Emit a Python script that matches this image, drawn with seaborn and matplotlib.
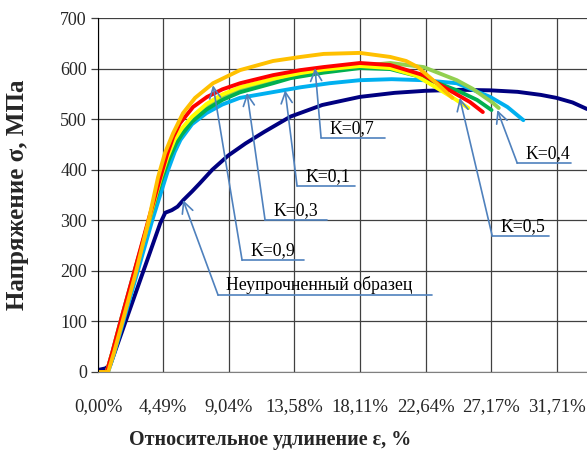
import numpy as np
import pandas as pd
import matplotlib
matplotlib.use('Agg')
import matplotlib.pyplot as plt
import seaborn as sns

sns.set_style('white')
plt.rcParams['font.family'] = ['Liberation Serif', 'DejaVu Serif']

# strain, % / stress, MPa
x_base = [0, 0.5, 0.85, 1.5, 2.5, 3.5, 4.3, 4.65, 5.1, 5.5, 5.9, 6.5, 7.0, 7.9, 9.0, 10.2,
          11.5, 13.3, 15.5, 18.1, 20.5, 22.6, 25.0, 27.1, 29.0, 30.6, 31.7, 32.8, 33.8]
y_base = [4, 7, 14, 67, 148, 229, 294, 315, 320, 327, 340, 357, 372, 400, 428, 452,
          475, 505, 528, 544, 552, 556, 558, 557, 554, 548, 542, 533, 520]

x_k01 = [0, 0.7, 1.1, 1.7, 2.75, 3.75, 4.85, 5.3, 5.7, 6.5, 7.5, 8.6, 9.8, 12.8, 14.0, 16.0,
         18.1, 20.3, 22.5, 24.8, 27.1, 28.3, 29.4]
y_k01 = [0, 0, 35, 95, 200, 300, 400, 435, 459, 490, 512, 529, 542, 557, 563, 571,
         577, 579, 577, 571, 544, 524, 498]

x_k04 = [0, 0.6, 1.0, 1.5, 2.5, 3.5, 4.4, 4.85, 5.35, 5.8, 6.5, 7.5, 8.6, 9.8, 12.1, 14.0,
         15.6, 18.1, 20.2, 22.5, 24.8, 25.9, 27.3, 27.7]
y_k04 = [0, 0, 38, 90, 192, 295, 385, 422, 455, 475, 500, 524, 543, 557, 575, 587,
         595, 605, 611, 603, 577, 560, 532, 522]

x_k03 = [0, 0.6, 1.0, 1.5, 2.5, 3.5, 4.45, 4.9, 5.4, 5.8, 6.5, 7.5, 8.6, 9.8, 12.1, 13.3,
         15.6, 18.1, 20.2, 22.5, 24.8, 26.2, 27.2]
y_k03 = [0, 0, 40, 94, 197, 298, 385, 420, 452, 470, 495, 519, 538, 553, 571, 581,
         592, 601, 599, 582, 557, 538, 518]

x_k05 = [0, 0.6, 1.0, 1.5, 2.5, 3.5, 4.35, 4.8, 5.3, 5.8, 6.5, 7.5, 8.6, 9.8, 12.1, 14.0,
         15.6, 18.1, 20.2, 22.0, 23.4, 24.6, 25.6]
y_k05 = [0, 0, 39, 92, 195, 298, 385, 425, 460, 482, 505, 530, 549, 563, 580, 591,
         598, 605, 601, 586, 562, 541, 522]

x_k07 = [0, 0.6, 1.0, 1.5, 2.5, 3.5, 4.29, 4.77, 5.2, 5.67, 6.57, 7.54, 8.6, 9.82, 12.1, 14.0,
         15.6, 18.1, 20.2, 22.5, 24.3, 25.7, 26.6]
y_k07 = [0, 0, 40, 94, 198, 302, 383, 430, 465, 492, 524, 544, 559, 571, 587, 597,
         603, 611, 607, 587, 557, 534, 514]

x_k09 = [0, 0.7, 1.1, 1.6, 2.6, 3.5, 4.15, 4.63, 5.19, 5.88, 6.71, 7.95, 9.82, 12.1, 14.0, 15.6,
         18.1, 20.2, 21.3, 22.1, 23.4, 24.5]
y_k09 = [0, 0, 38, 90, 195, 300, 385, 433, 472, 512, 542, 571, 597, 615, 623, 629,
         631, 623, 615, 603, 571, 542]

tick_pos = [0, 4.49, 9.04, 13.58, 18.11, 22.64, 27.17, 31.71]
tick_labels = ['0,00%', '4,49%', '9,04%', '13,58%', '18,11%', '22,64%', '27,17%', '31,71%']

# callouts: label, arrow tip (x, y), underline start x, underline end x, underline y
callouts = [
    ('K=0,7', (15.0, 601), 15.42, 19.85, 463),
    ('K=0,1', (12.93, 557), 13.76, 17.77, 368),
    ('K=0,3', (10.3, 552), 11.55, 15.84, 300),
    ('K=0,9', (7.95, 567), 9.96, 14.25, 221),
    ('Неупрочненный образец', (5.88, 340), 8.30, 23.1, 152),
    ('K=0,4', (27.6, 518), 28.98, 32.71, 413),
    ('K=0,5', (25.0, 542), 27.25, 31.19, 269),
]

series = [
    (x_base, y_base, '#000080'),
    (x_k01, y_k01, '#00B0F0'),
    (x_k04, y_k04, '#92D050'),
    (x_k03, y_k03, '#00B050'),
    (x_k05, y_k05, '#FFFF00'),
    (x_k07, y_k07, '#FF0000'),
    (x_k09, y_k09, '#FFC000'),
]

fig = plt.figure(figsize=(5.87, 4.57), dpi=100)
ax = fig.add_axes([98 / 587, 85 / 457, 1 - 98 / 587, 354 / 457])

for xs, ys, c in series:
    df = pd.DataFrame({'x': xs, 'y': ys})
    sns.lineplot(data=df, x='x', y='y', color=c, lw=2.8, sort=False, estimator=None, ax=ax)

arrow_c = '#4F81BD'
for label, tip, x0, x1, yl in callouts:
    ax.plot([x0, x1], [yl, yl], color=arrow_c, lw=1.2)
    ax.annotate('', xy=tip, xytext=(x0, yl),
                arrowprops=dict(arrowstyle='->,head_length=0.8,head_width=0.4',
                                color=arrow_c, lw=1.2, shrinkA=0, shrinkB=0))
    ax.annotate(label, xy=(x0, yl), xytext=(6, 0.5), textcoords='offset points',
                ha='left', va='bottom', fontsize=12.8, color='black')

ax.set_xlim(0, 33.8)
ax.set_ylim(0, 700)
ax.set_yticks(range(0, 701, 100))
ax.set_xticks(tick_pos)
ax.set_xticklabels(tick_labels)
ax.grid(True, color='#404040', lw=0.9)
ax.set_axisbelow(True)
ax.tick_params(axis='y', length=5, width=0.9, color='#404040', pad=3, labelsize=13, left=True)
ax.tick_params(axis='x', length=0, pad=19, labelsize=13.5)
for s in ['top', 'right']:
    ax.spines[s].set_visible(False)
ax.spines['left'].set_color('black')
ax.spines['bottom'].set_color('#808080')
ax.set_xlabel('')
ax.set_ylabel('')

fig.text(270 / 587, 1 - 440 / 457, 'Относительное удлинение ε, %', ha='center', va='center',
         fontsize=14.5, fontweight='bold')
fig.text(18 / 587, 1 - 195 / 457, 'Напряжение σ, МПа', ha='center', va='center',
         rotation=90, fontsize=18, fontweight='bold')

fig.savefig('out.png', dpi=100)
